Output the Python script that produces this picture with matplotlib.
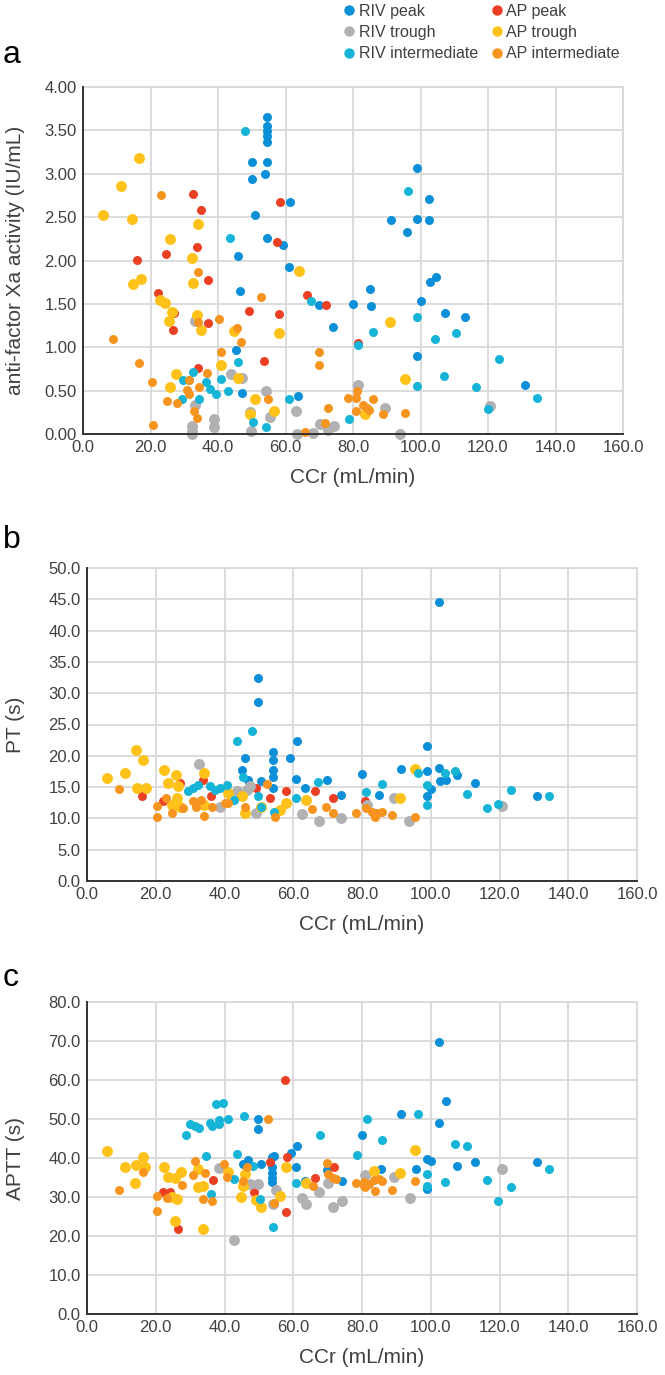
import matplotlib
matplotlib.use("Agg")
import matplotlib.pyplot as plt
from matplotlib.lines import Line2D
from matplotlib.ticker import FormatStrFormatter, MultipleLocator

plt.rcParams['font.family'] = ['Liberation Sans', 'DejaVu Sans']

# ---- data (x = CCr, y = value) ----
series_names = ["RIV peak", "RIV trough", "RIV intermediate",
                "AP peak", "AP trough", "AP intermediate"]
series_colors = ["#0a8fd8", "#b1b1b4", "#16b4d6", "#ec4025", "#ffc21a", "#f7941f"]

# panel a: anti-factor Xa activity (IU/mL)
a_riv_peak = [(54.5, 3.65), (54.5, 3.55), (54.5, 3.49), (54.5, 3.43), (54.5, 3.37), (54.5, 3.13),
              (50, 3.13), (50, 2.94), (54, 3.00), (51.1, 2.52), (54.4, 2.26), (61.2, 2.67),
              (59.4, 2.18), (46, 2.05), (61.1, 1.93), (46.6, 1.65), (70, 1.49), (99, 3.07),
              (102.6, 2.71), (91.4, 2.47), (99, 2.48), (102.6, 2.47), (96, 2.33), (102.7, 1.75),
              (104.7, 1.81), (84.9, 1.67), (80, 1.50), (85.4, 1.48), (100, 1.53), (74.1, 1.23),
              (107.4, 1.40), (113.1, 1.35), (45.2, 0.97), (98.9, 0.90), (131, 0.57), (47, 0.47),
              (63.6, 0.44)]
a_riv_trough = [(33.2, 1.30), (43.9, 0.69), (47, 0.64), (81.6, 0.57), (54.3, 0.49), (33.2, 0.33),
                (55.3, 0.20), (63, 0.27), (89.6, 0.30), (120.6, 0.32), (49.6, 0.25), (38.9, 0.17),
                (70.3, 0.11), (74.3, 0.09), (32.3, 0.09), (38.9, 0.08), (32.3, 0.03), (32.3, 0.0),
                (49.8, 0.04), (63.4, 0.0), (68.2, 0.01), (94, 0.0), (72.7, 0.05)]
a_riv_inter = [(48, 3.49), (96.2, 2.80), (43.6, 2.26), (67.6, 1.53), (99, 1.35), (85.8, 1.18),
               (110.6, 1.17), (104.3, 1.10), (81.4, 1.03), (123.4, 0.86), (45.8, 0.83), (32.6, 0.72),
               (29.7, 0.62), (31.3, 0.62), (41, 0.63), (36.4, 0.60), (107, 0.67), (99, 0.55),
               (116.5, 0.54), (43, 0.50), (37.6, 0.52), (39.5, 0.46), (134.5, 0.42), (60.9, 0.40),
               (29.2, 0.40), (34.5, 0.40), (120, 0.29), (78.9, 0.17), (50.4, 0.14), (54.3, 0.08)]
a_ap_peak = [(32.7, 2.77), (35, 2.58), (58.4, 2.68), (57.4, 2.21), (24.5, 2.08), (33.8, 2.16),
             (16.1, 2.01), (37, 1.78), (22.3, 1.62), (66.5, 1.60), (72, 1.49), (49.2, 1.42),
             (58.1, 1.38), (26.9, 1.40), (37, 1.28), (26.7, 1.20), (81.4, 1.05), (53.6, 0.84),
             (34.1, 0.76)]
a_ap_trough = [(16.5, 3.18), (11.2, 2.86), (6, 2.53), (14.4, 2.48), (34.2, 2.42), (25.7, 2.25),
               (32.4, 2.03), (64.1, 1.88), (17.1, 1.79), (14.7, 1.73), (32.7, 1.74), (22.8, 1.54),
               (24.3, 1.51), (26.3, 1.41), (33.8, 1.37), (25.4, 1.30), (35.1, 1.20), (44.8, 1.19),
               (58.1, 1.17), (91.1, 1.29), (41, 0.80), (27.5, 0.69), (46, 0.65), (95.5, 0.63),
               (25.9, 0.54), (51, 0.40), (56.5, 0.26), (83.5, 0.23), (49.6, 0.23)]
a_ap_inter = [(23.2, 2.75), (34, 1.87), (52.8, 1.58), (40.3, 1.32), (34, 1.29), (45.5, 1.22),
              (9, 1.10), (46.7, 1.06), (41, 0.95), (70, 0.95), (16.5, 0.82), (70, 0.79),
              (36.6, 0.70), (31.3, 0.62), (20.4, 0.60), (34.5, 0.54), (30.7, 0.51), (81.3, 0.50),
              (31.3, 0.46), (54.9, 0.40), (78.5, 0.41), (81, 0.41), (85.8, 0.40), (24.8, 0.38),
              (27.9, 0.36), (33, 0.26), (33.8, 0.19), (72.5, 0.30), (83.1, 0.33), (84.2, 0.30),
              (84.8, 0.28), (81, 0.26), (88.8, 0.23), (95.5, 0.24), (20.6, 0.10), (71.8, 0.13),
              (65.7, 0.02)]

# panel b: PT (s)
b_riv_peak = [(49.8, 32.4), (49.6, 28.6), (61, 22.4), (46, 19.6), (54, 20.6), (54, 19.4),
              (54, 17.8), (54, 16.6), (59, 19.7), (45, 17.8), (46.7, 16.2), (50.7, 15.9),
              (60.7, 16.3), (63.5, 14.9), (54.1, 14.9), (69.8, 16.1), (73.9, 13.7), (80, 17.1),
              (102.4, 44.6), (98.9, 21.5), (91.3, 17.9), (98.9, 17.5), (102.4, 18.0), (102.7, 15.9),
              (104.5, 16.1), (107.6, 17.0), (112.9, 15.7), (85, 13.8), (100, 14.7), (98.9, 13.6),
              (131, 13.6)]
b_riv_trough = [(32.7, 18.7), (38.6, 11.9), (43.5, 14.3), (46.4, 14.6), (47.3, 15.1), (49.1, 10.8),
                (62.5, 10.7), (67.4, 9.6), (73.9, 10.1), (81.5, 12.1), (89.2, 13.2), (93.8, 9.6),
                (120.6, 12.0)]
b_riv_inter = [(48, 23.9), (43.5, 22.3), (45.4, 16.6), (67.3, 15.8), (81.2, 14.2), (29.5, 14.3),
               (30.9, 14.8), (32.4, 15.4), (35.7, 15.1), (37.2, 14.6), (38.6, 14.8), (40.6, 15.4),
               (42.8, 12.9), (49.8, 13.5), (50.5, 11.9), (54.4, 11.1), (60.9, 13.2), (96.2, 17.2),
               (104.2, 17.2), (107.1, 17.6), (85.8, 15.5), (98.9, 15.3), (98.9, 12.1), (110.5, 13.9),
               (123.3, 14.6), (134.3, 13.6), (116.4, 11.7), (119.7, 12.3)]
b_ap_peak = [(57.8, 14.3), (66.3, 14.4), (71.7, 13.2), (80.9, 12.7), (16.1, 13.5), (27, 15.6),
             (22.2, 12.7), (33.8, 16.2), (36.2, 13.6), (49.1, 14.8), (53.3, 13.2)]
b_ap_trough = [(14.2, 20.9), (16.3, 19.4), (34, 17.2), (5.8, 16.4), (11.1, 17.3), (14.5, 14.9),
               (17.1, 14.9), (22.5, 17.7), (25.8, 17.0), (23.7, 15.7), (26.6, 15.1), (24.6, 12.1),
               (26.1, 13.2), (27, 11.9), (34, 12.1), (41.1, 14.0), (45.2, 13.5), (46.1, 10.9),
               (50.7, 11.8), (56, 11.3), (58, 12.4), (63.8, 12.9), (95.3, 17.9), (91.1, 13.2)]
b_ap_inter = [(52.4, 15.5), (9.2, 14.7), (23, 13.2), (20.5, 12.0), (20.5, 10.2), (24.6, 10.9),
              (28, 11.6), (30.9, 12.7), (33.3, 13), (31.7, 11.8), (34, 10.4), (36.5, 11.8),
              (40.1, 12.4), (41.1, 12.4), (45.9, 11.9), (54.6, 10.3), (65.4, 11.5), (69.6, 11.9),
              (71.5, 10.8), (78.3, 10.9), (81.2, 11.6), (82.9, 11.1), (84.3, 10.9), (85.8, 11.0),
              (83.9, 10.3), (88.7, 10.5), (95.3, 10.2)]

# panel c: APTT (s)
c_riv_peak = [(49.8, 50), (49.8, 47.4), (61, 43.1), (59.2, 41.3), (54.4, 40.4), (45.4, 38.5),
              (46.9, 39.5), (50.5, 38.5), (53.9, 40.3), (53.9, 37.6), (53.9, 36.1), (53.9, 35.0),
              (53.9, 33.8), (60.9, 37.8), (63.3, 34), (69.8, 36.8), (74.1, 34), (80, 46),
              (91.3, 51.3), (102.5, 69.8), (104.4, 54.7), (102.5, 48.9), (98.9, 39.7), (100, 39.3),
              (107.6, 38), (112.9, 39.1), (131, 39.1), (95.8, 37.2), (85.5, 37.2), (98.9, 32.1)]
c_riv_trough = [(38.5, 37.4), (42.8, 19.1), (47.3, 33.3), (49.8, 33.3), (54.1, 28.2), (55.1, 31.8),
                (62.6, 29.7), (63.6, 28.2), (67.6, 31.2), (70, 33.6), (71.7, 27.5), (74.1, 29.1),
                (81, 35.7), (89.2, 35.2), (94, 29.7), (120.6, 37.2)]
c_riv_inter = [(37.4, 53.9), (39.6, 54), (28.8, 46), (30.1, 48.8), (31.4, 48.1), (32.5, 47.7),
               (35.9, 49.1), (36.4, 48.3), (38.3, 49.8), (38.5, 48.8), (41.1, 50), (45.6, 50.8),
               (67.7, 46), (43.7, 41.1), (34.5, 40.4), (36.2, 30.8), (42.8, 34.6), (48.3, 38),
               (50.2, 29.5), (54.1, 22.2), (60.9, 33.6), (78.5, 40.8), (81.4, 49.9), (85.8, 44.6),
               (96.2, 51.3), (107, 43.6), (110.4, 43.2), (98.9, 35.9), (104.2, 33.8), (116.3, 34.4),
               (98.9, 32.9), (123.3, 32.6), (119.7, 29.1), (134.3, 37.2)]
c_ap_peak = [(57.5, 60), (58.3, 40.2), (22.2, 31.2), (24.2, 31.2), (26.6, 21.8), (36.7, 34.4),
             (48.5, 31.2), (53.1, 38.9), (58, 26.1), (66.4, 35), (71.9, 37.6)]
c_ap_trough = [(5.8, 41.7), (11.1, 37.6), (14, 33.5), (14.3, 38.3), (16.4, 40.3), (16.9, 37.8),
               (22.5, 37.6), (24.6, 30.1), (26.1, 29.5), (23.7, 35.2), (25.6, 35.0), (27.3, 36.3),
               (25.6, 23.9), (32.4, 37.2), (32.4, 32.6), (33.8, 32.9), (33.8, 21.8), (41.1, 36.3),
               (45.9, 35.9), (45.4, 32.9), (44.7, 29.9), (49.1, 29.2), (50.7, 27.5), (56, 30.2),
               (58, 37.6), (63.8, 33.5), (95.3, 42), (83.6, 36.6), (91.1, 36.2)]
c_ap_inter = [(9.2, 31.8), (16.4, 36.3), (20.5, 30.3), (20.3, 26.3), (23.4, 29.7), (27.7, 33.1),
              (31.4, 39.3), (30.9, 35.7), (34.2, 36.1), (33.6, 29.5), (36.4, 29.1), (39.8, 38.5),
              (40.6, 35.2), (46.4, 37.6), (45.4, 34.2), (54.3, 28.5), (52.7, 50), (65.7, 32.9),
              (69.8, 38.7), (70, 35.9), (71.5, 34.9), (72.5, 34.6), (78.3, 33.5), (80.7, 32.9),
              (95.3, 34), (80.5, 33.8), (82, 33.3), (83.4, 34.4), (84.8, 34.6), (85.8, 34.2),
              (81, 32.6), (83.9, 31.6), (88.7, 31.8)]

panels = [
    ("a", "anti-factor Xa activity (IU/mL)", 4.0, 0.5, "%.2f",
     [a_riv_peak, a_riv_trough, a_riv_inter, a_ap_peak, a_ap_trough, a_ap_inter]),
    ("b", "PT (s)", 50.0, 5.0, "%.1f",
     [b_riv_peak, b_riv_trough, b_riv_inter, b_ap_peak, b_ap_trough, b_ap_inter]),
    ("c", "APTT (s)", 80.0, 10.0, "%.1f",
     [c_riv_peak, c_riv_trough, c_riv_inter, c_ap_peak, c_ap_trough, c_ap_inter]),
]

W, H = 665, 1375
# axes boxes in pixels: left, top, right, bottom
boxes = [(83, 87, 623, 434), (87, 568, 637, 881), (87, 1002, 637, 1314)]
letter_y = [55, 540, 978]
draw_order = [0, 3, 1, 4, 2, 5]
sizes = [42, 62, 42, 42, 62, 42]
grid_c = "#d9d9d9"
text_c = "#404040"

fig = plt.figure(figsize=(W / 100, H / 100), dpi=100)

for (letter, ylab, ymax, ystep, yfmt, data), (l, t, r, b), ly in zip(panels, boxes, letter_y):
    ax = fig.add_axes([l / W, 1 - b / H, (r - l) / W, (b - t) / H])
    for i in draw_order:
        pts = data[i]
        ax.scatter([p[0] for p in pts], [p[1] for p in pts], s=sizes[i],
                   color=series_colors[i], linewidths=0, zorder=3, clip_on=False)
    ax.set_xlim(0, 160)
    ax.set_ylim(0, ymax)
    ax.xaxis.set_major_locator(MultipleLocator(20))
    ax.yaxis.set_major_locator(MultipleLocator(ystep))
    ax.xaxis.set_major_formatter(FormatStrFormatter("%.1f"))
    ax.yaxis.set_major_formatter(FormatStrFormatter(yfmt))
    ax.grid(True, color=grid_c, linewidth=1.3, zorder=0)
    ax.set_axisbelow(True)
    for s in ("top", "right"):
        ax.spines[s].set_color(grid_c)
        ax.spines[s].set_linewidth(1.3)
    for s in ("left", "bottom"):
        ax.spines[s].set_color("#333333")
        ax.spines[s].set_linewidth(1.4)
        ax.spines[s].set_zorder(4)
    ax.tick_params(length=0, pad=4.5, labelsize=12, labelcolor=text_c)
    ax.set_xlabel("CCr (mL/min)", fontsize=15, color=text_c, labelpad=9)
    ax.set_ylabel(ylab, fontsize=15, color=text_c)
    ax.yaxis.set_label_coords((25 - l) / (r - l), 0.5)
    fig.text(3 / W, 1 - ly / H, letter, fontsize=23, color="black", va="center", ha="left")

handles = [Line2D([], [], marker="o", linestyle="", markersize=7.5,
                  markerfacecolor=c, markeredgewidth=0) for c in series_colors]
fig.legend(handles, series_names, ncol=2, loc="upper left",
           bbox_to_anchor=(343 / W, 1 - 4 / H), frameon=False, fontsize=11.5,
           handletextpad=0.2, columnspacing=0.75, labelspacing=0.38,
           handlelength=0.8, borderaxespad=0, borderpad=0, labelcolor=text_c)

fig.savefig("out.png", dpi=100)
